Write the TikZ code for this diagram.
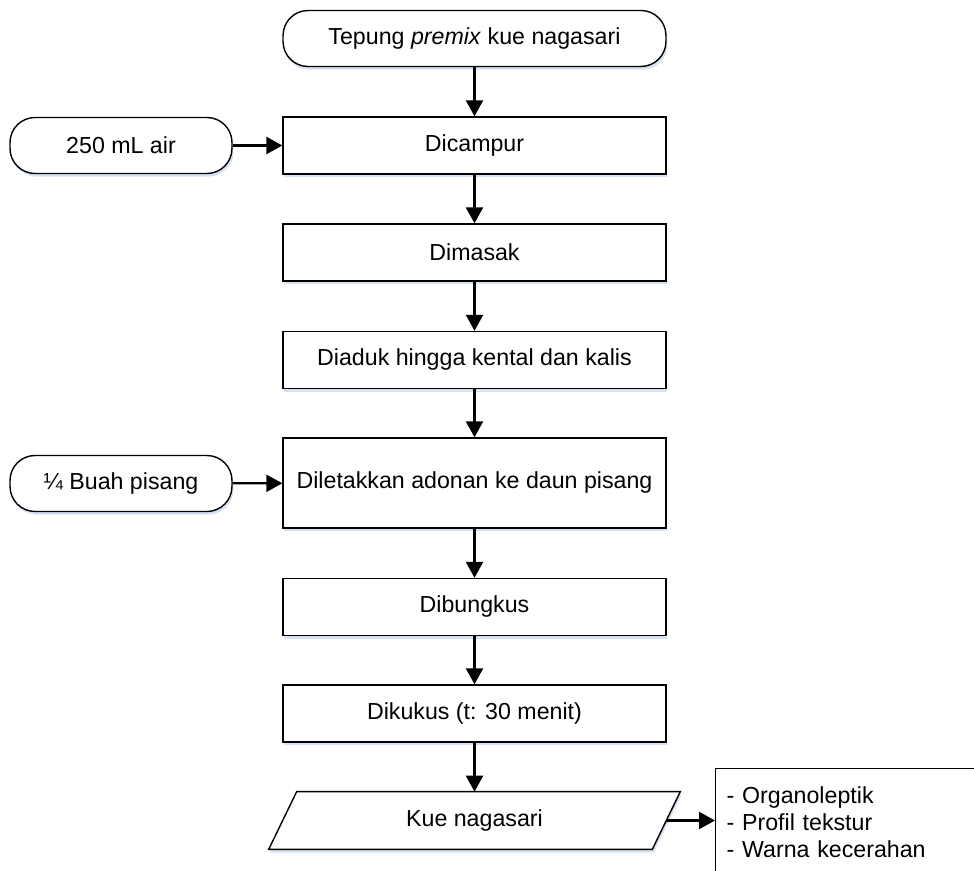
\documentclass[tikz,border=0pt]{standalone}
\usepackage{fontspec}
\setmainfont{Liberation Sans}
\usetikzlibrary{arrows.meta,shadows}

\definecolor{shadowblue}{RGB}{210,223,241}

\begin{document}
\begin{tikzpicture}[x=0.02cm,y=-0.02cm,
    font=\fontsize{13.2}{15.3}\selectfont,
    flowshadow/.style={drop shadow={shadow xshift=0.8pt,shadow yshift=-1.8pt,fill=shadowblue,opacity=0.9}},
    process/.style={draw,line width=0.8pt,fill=white,minimum width=7.66cm,minimum height=1.14cm,inner sep=0pt,flowshadow},
    terminal/.style={draw,line width=0.8pt,fill=white,rounded corners=0.5cm,minimum height=1.12cm,inner sep=0pt,flowshadow},
    flow/.style={line width=1.3pt,-{Triangle[width=0.34cm,length=0.32cm]}}]
        \useasboundingbox (0,0) rectangle (974,871);

        \node[terminal,minimum width=7.66cm] (start) at (474.5,38.5) {Tepung \textit{premix} kue nagasari};
        \node[process] (mix) at (474.5,145.5) {Dicampur};
        \node[terminal,minimum width=4.44cm] (water) at (121,145.5) {250 mL air};
        \node[process] (cook) at (474.5,252.5) {Dimasak};
        \node[process] (stir) at (474.5,360) {Diaduk hingga kental dan kalis};
        \node[process,minimum height=1.8cm] (place) at (474.5,483) {Diletakkan adonan ke daun pisang};
        \node[terminal,minimum width=4.44cm] (banana) at (121,483.5) {¼ Buah pisang};
        \node[process] (wrap) at (474.5,607) {Dibungkus};
        \node[process] (steam) at (474.5,713.5) {Dikukus (t: 30 menit)};

        % produk akhir (jajar genjang)
        \node[minimum width=7.66cm,minimum height=1.14cm,inner sep=0pt] (cake) at (474.5,820.5) {};
        \draw[line width=0.8pt,fill=white,flowshadow] ([xshift=0.28cm]cake.north west) -- ([xshift=0.28cm]cake.north east)
            -- ([xshift=-0.28cm]cake.south east) -- ([xshift=-0.28cm]cake.south west) -- cycle;
        \node at (cake) {Kue nagasari};

        % analisis
        \node[draw,line width=0.8pt,anchor=north west,align=left,inner xsep=0.22cm,inner ysep=0.36cm,
            text width=5.5cm] (test) at (715,768)
            {- Organoleptik\\- Profil tekstur\\- Warna kecerahan\\ \mbox{}};

        \draw[flow] (start) -- (mix);
        \draw[flow] (water) -- (mix);
        \draw[flow] (mix) -- (cook);
        \draw[flow] (cook) -- (stir);
        \draw[flow] (stir) -- (place);
        \draw[flow] (banana) -- (place);
        \draw[flow] (place) -- (wrap);
        \draw[flow] (wrap) -- (steam);
        \draw[flow] (steam) -- (cake);
        \draw[flow] (cake.east) -- (test.west |- cake.east);
      \end{tikzpicture}
\end{document}
